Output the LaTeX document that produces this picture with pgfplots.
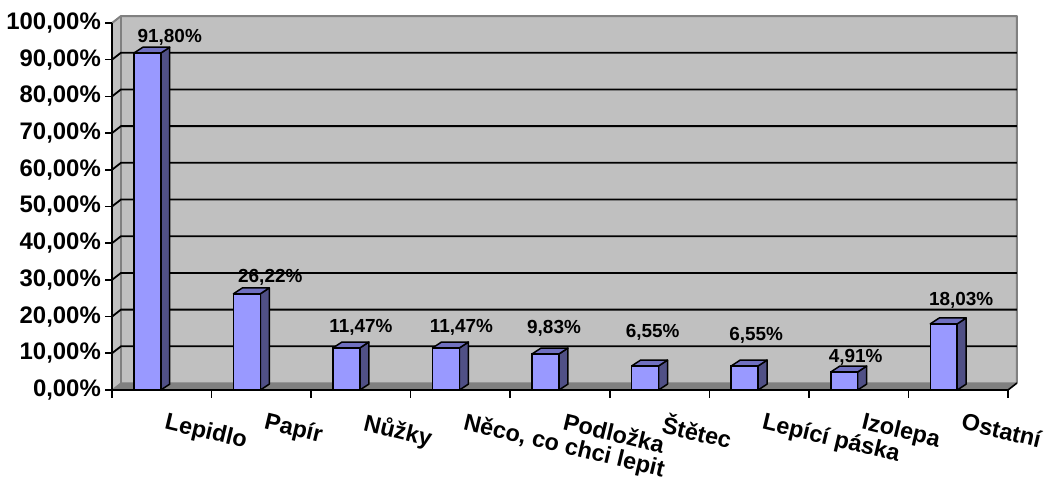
\documentclass[border=0pt]{standalone}
\usepackage{pgfplots}
\usepackage{pgfplotstable}
\pgfplotsset{compat=1.18}
\usepackage{fontspec}
\setmainfont{Liberation Sans}

\definecolor{wall}{RGB}{192,192,192}
\definecolor{floorgrey}{RGB}{128,128,128}
\definecolor{edgegrey}{RGB}{128,128,128}
\definecolor{barfront}{RGB}{153,153,255}
\definecolor{barside}{RGB}{80,80,134}
\definecolor{bartop}{RGB}{112,112,192}

% i = category index, v = share in percent, lx/ly = position of the value label
\pgfplotstableread{
i v lx ly
0 91.80 0.58 94.8
1 26.22 1.59 29.4
2 11.47 2.50 15.8
3 11.47 3.51 15.8
4 9.83 4.44 15.5
5 6.55 5.43 14.4
6 6.55 6.47 13.4
7 4.91 7.47 7.4
8 18.03 8.53 22.9
}\shares

% depth of the back wall and of the bars, in axis units
\def\wdx{0.09}
\def\wdy{1.9}
\def\bdx{0.09}
\def\bdy{1.6}

\begin{document}
\begin{tikzpicture}
\path[use as bounding box] (0,0) rectangle (1047bp,480bp);
\begin{axis}[
  at={(112bp,90bp)}, anchor=south west,
  scale only axis, width=896bp, height=367bp,
  xmin=0, xmax=9, ymin=0, ymax=100,
  clip=false, axis on top,
  axis x line=bottom, axis y line=left,
  axis line style={-, black, line width=1.6bp},
  tick align=outside,
  major tick length=7bp, minor tick length=8bp,
  tick style={black, line width=1.6bp},
  ytick={0,10,...,100},
  yticklabel={\pgfmathprintnumber[fixed,fixed zerofill,precision=2,use comma]{\tick}\%},
  yticklabel style={font=\bfseries\fontsize{24}{24}\selectfont, anchor=east, inner sep=0pt, xshift=-4bp},
  xtick={0.5,1.5,...,8.5},
  minor xtick={0,1,...,9},
  xtick style={draw=none},
  minor x tick style={draw=black, line width=1.6bp},
  xticklabels={Lepidlo,Papír,Nůžky,{Něco, co chci lepit},Podložka,Štětec,Lepící páska,Izolepa,Ostatní},
  xticklabel style={font=\bfseries\fontsize{23.5}{23.5}\selectfont, inner sep=0pt,
    xshift=6bp, yshift=-15bp, rotate=-13.5, anchor=north west},
  /pgf/number format/assume math mode=true,
]
% back wall, left wall and floor
\fill[wall] (axis cs:\wdx,\wdy) rectangle (axis cs:9+\wdx,100+\wdy);
\fill[wall] (axis cs:0,0) -- (axis cs:\wdx,\wdy) -- (axis cs:\wdx,100+\wdy) -- (axis cs:0,100) -- cycle;
\fill[floorgrey] (axis cs:0,0) -- (axis cs:\wdx,\wdy) -- (axis cs:9+\wdx,\wdy) -- (axis cs:9,0) -- cycle;
\draw[edgegrey, line width=1.5bp] (axis cs:\wdx,\wdy) -- (axis cs:\wdx,100+\wdy);
\draw[edgegrey, line width=2bp, line join=round]
  (axis cs:0,100) -- (axis cs:\wdx,100+\wdy) -- (axis cs:9+\wdx,100+\wdy) -- (axis cs:9+\wdx,\wdy);
\draw[edgegrey, line width=1.2bp] (axis cs:0,0) -- (axis cs:\wdx,\wdy) -- (axis cs:9+\wdx,\wdy);
\draw[black, line width=1.6bp] (axis cs:9,0) -- (axis cs:9+\wdx,\wdy);
% grid lines on the back wall
\pgfplotsinvokeforeach{10,20,...,90}{
  \draw[black, line width=1.8bp] (axis cs:0,#1) -- (axis cs:\wdx,#1+\wdy) -- (axis cs:9+\wdx,#1+\wdy);
}

% side and top faces of the bars
\pgfplotsinvokeforeach{0,...,8}{
  \pgfplotstablegetelem{#1}{v}\of\shares
  \pgfmathsetmacro\bv{\pgfplotsretval}
  \pgfmathsetmacro\bvt{\bv+\bdy}
  \pgfmathsetmacro\xl{#1+0.22}
  \pgfmathsetmacro\xr{#1+0.49}
  \pgfmathsetmacro\xlb{#1+0.22+\bdx}
  \pgfmathsetmacro\xrb{#1+0.49+\bdx}
  \addplot[draw=black, line width=1.5bp, line join=round, fill=barside]
    coordinates {(\xr,0) (\xrb,\bdy) (\xrb,\bvt) (\xr,\bv)} -- cycle;
  \addplot[draw=black, line width=1.5bp, line join=round, fill=bartop]
    coordinates {(\xl,\bv) (\xlb,\bvt) (\xrb,\bvt) (\xr,\bv)} -- cycle;
}
% front faces of the bars
\addplot[ybar, bar shift=0pt, bar width=26.9bp, draw=black, line width=1.5bp, fill=barfront]
  table[x expr=\thisrow{i}+0.355, y=v] {\shares};

% value labels
\addplot[draw=none, mark=none, point meta=explicit,
  nodes near coords={\pgfmathprintnumber[fixed,fixed zerofill,precision=2,use comma]{\pgfplotspointmeta}\%},
  nodes near coords style={font=\bfseries\fontsize{19}{19}\selectfont, anchor=base, inner sep=0pt}]
  table[x=lx, y=ly, meta=v] {\shares};
\end{axis}
\end{tikzpicture}
\end{document}
